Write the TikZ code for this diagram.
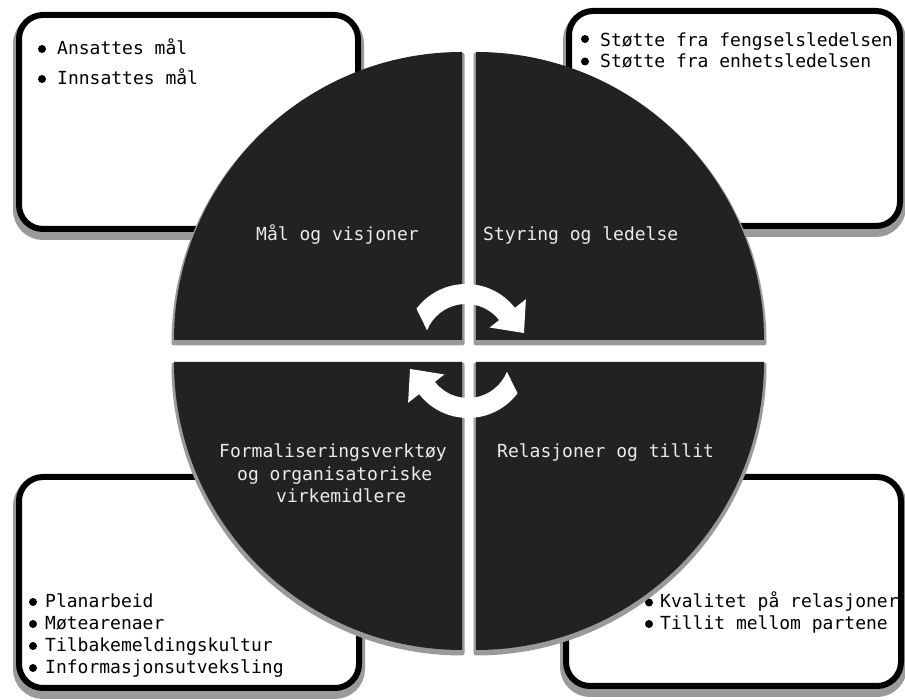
\documentclass[tikz,border=0pt]{standalone}
\usepackage{fontspec}
\newfontfamily\monof{DejaVu Sans Mono}
\definecolor{quad}{HTML}{222222}
\definecolor{shad}{HTML}{9A9A9A}
\definecolor{lbl}{HTML}{EBEBEB}
\begin{document}
\begin{tikzpicture}[x=1pt,y=1pt,
  boxshadow/.style={draw=shad, fill=shad, line width=12pt, rounded corners=24pt},
  infobox/.style={draw=black, fill=white, line width=6pt, rounded corners=24pt},
  qshadow/.style={fill=shad, draw=shad, line width=5pt, line join=round},
  quadrant/.style={fill=quad},
  itemtext/.style={anchor=base west, inner sep=0pt, font=\monof\fontsize{18}{22}\selectfont, text=black},
  qlabel/.style={anchor=base west, inner sep=0pt, font=\monof\fontsize{18}{22}\selectfont, text=lbl},
  bul/.style={fill=black},
  cyc/.pic={
    \fill[white] (143:62pt) arc[start angle=143, end angle=38, radius=62pt]
      -- (38:76pt) -- (12.6:59.4pt) -- (38:30pt)
      -- (38:42pt) arc[start angle=38, end angle=158, radius=42pt] -- cycle;
  }]
\useasboundingbox (0,0) rectangle (905,700);
\fill[white] (0,0) rectangle (905,700);

% ---- info boxes ----
\foreach \xa/\ya/\xb/\yb in {19/685/358/471, 569/689/900/474, 19/223/359/12, 566/223/901/14}{
  \path[boxshadow] ([shift={(0,-5)}]\xa,\ya) rectangle ([shift={(0,-5)}]\xb,\yb);
}
\path[infobox] (19,685) rectangle (358,471);
\path[infobox] (569,689) rectangle (900,474);
\path[infobox] (19,223) rectangle (359,12);
\path[infobox] (566,223) rectangle (901,14);

% TL box items
\fill[bul] (42,651) circle (4pt);
\fill[bul] (42,621) circle (4pt);
\node[itemtext] (tl1) at (57,645) {Ansattes mål};
\node[itemtext] (tl2) at (57,615) {Innsattes mål};
% TR box items
\fill[bul] (585,661) circle (4pt);
\fill[bul] (585,638.5) circle (4pt);
\node[itemtext] (tr1) at (600,653) {Støtte fra fengselsledelsen};
\node[itemtext] (tr2) at (600,632) {Støtte fra enhetsledelsen};
% BL box items
\fill[bul] (33,98) circle (4pt);
\fill[bul] (33,76) circle (4pt);
\fill[bul] (33,54) circle (4pt);
\fill[bul] (33,32) circle (4pt);
\node[itemtext] (bl1) at (45,92) {Planarbeid};
\node[itemtext] (bl2) at (45,70) {Møtearenaer};
\node[itemtext] (bl3) at (45,48) {Tilbakemeldingskultur};
\node[itemtext] (bl4) at (45,26) {Informasjonsutveksling};
% BR box items
\fill[bul] (649,97.5) circle (4pt);
\fill[bul] (649,76) circle (4pt);
\node[itemtext] (br1) at (660,92) {Kvalitet på relasjoner};
\node[itemtext] (br2) at (660,70) {Tillit mellom partene};

% ---- quadrant shadows ----
\begin{scope}[shift={(0,-3)}]
  \path[qshadow] (462,360) -- (174,360) arc[start angle=180, end angle=90, radius=288pt] -- cycle;
  \path[qshadow] (476,360) -- (476,648) arc[start angle=90, end angle=0, radius=288pt] -- cycle;
  \path[qshadow] (462,338) -- (174,338) arc[start angle=180, end angle=270, radius=288pt] -- cycle;
  \path[qshadow] (476,338) -- (764,338) arc[start angle=0, end angle=-90, radius=288pt] -- cycle;
\end{scope}
% ---- quadrants ----
\path[quadrant] (462,360) -- (174,360) arc[start angle=180, end angle=90, radius=288pt] -- cycle;
\path[quadrant] (476,360) -- (476,648) arc[start angle=90, end angle=0, radius=288pt] -- cycle;
\path[quadrant] (462,338) -- (174,338) arc[start angle=180, end angle=270, radius=288pt] -- cycle;
\path[quadrant] (476,338) -- (764,338) arc[start angle=0, end angle=-90, radius=288pt] -- cycle;

% ---- quadrant labels ----
\node[qlabel] (q1) at (256,459) {Mål og visjoner};
\node[qlabel] (q2) at (483,459) {Styring og ledelse};
\node[qlabel] (q3a) at (219,242) {Formaliseringsverktøy};
\node[qlabel] (q3b) at (237,219) {og organisatoriske};
\node[qlabel] (q3c) at (276,197) {virkemidlere};
\node[qlabel] (q4) at (497,242) {Relasjoner og tillit};

% ---- cycle arrows ----
\pic at (466,354) {cyc};
\pic[rotate=180] at (468,344) {cyc};
\end{tikzpicture}
\end{document}
